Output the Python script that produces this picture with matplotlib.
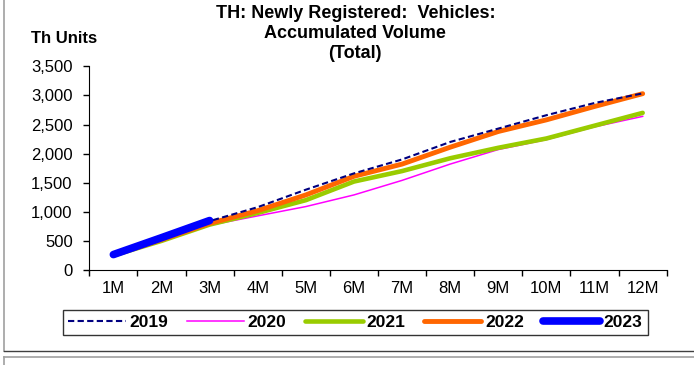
import matplotlib
matplotlib.use("Agg")
import matplotlib.pyplot as plt
import numpy as np
from matplotlib.lines import Line2D

plt.rcParams['font.family'] = ['Liberation Sans', 'DejaVu Sans']

# Data (thousand units, accumulated)
months = ["1M", "2M", "3M", "4M", "5M", "6M", "7M", "8M", "9M", "10M", "11M", "12M"]
v2019 = [260, 540, 840, 1080, 1380, 1660, 1900, 2200, 2430, 2660, 2870, 3035]
v2020 = [250, 490, 770, 930, 1090, 1290, 1540, 1820, 2070, 2240, 2460, 2640]
v2021 = [250, 500, 780, 980, 1200, 1520, 1700, 1920, 2100, 2260, 2480, 2700]
v2022 = [255, 520, 800, 1020, 1290, 1610, 1820, 2110, 2380, 2580, 2810, 3030]
v2023 = [265, 555, 850]

fig = plt.figure(figsize=(6.94, 3.65), dpi=100)
ax = fig.add_axes([0.1287, 0.2603, 0.832, 0.558])

x = np.arange(len(months)) + 0.5

ax.plot(x, v2020, color="#FF00FF", lw=1.1, label="2020", zorder=2)
ax.plot(x, v2021, color="#99CC00", lw=3.3, label="2021", zorder=3, solid_capstyle="round")
ax.plot(x, v2022, color="#FF6600", lw=3.5, label="2022", zorder=4, solid_capstyle="round")
ax.plot(x, v2019, color="#000080", lw=1.5, ls=(0, (3, 1.6)), label="2019", zorder=5)
ax.plot(x[:len(v2023)], v2023, color="#0000FF", lw=5.5, label="2023", zorder=6,
        solid_capstyle="round")

ax.set_xlim(0, 12)
ax.set_ylim(0, 3500)
ax.set_yticks(np.arange(0, 3501, 500))
ax.set_yticklabels([f"{v:,}" for v in range(0, 3501, 500)], fontsize=12)
ax.set_xticks(np.arange(0, 13))
ax.set_xticklabels([])
ax.set_xticks(x, minor=True)
ax.set_xticklabels(months, minor=True, fontsize=12)
ax.tick_params(axis="x", which="major", direction="out", length=4, width=1)
ax.tick_params(axis="x", which="minor", length=0, pad=8)
ax.tick_params(axis="y", direction="out", length=4, width=1, pad=8)
ax.spines["top"].set_visible(False)
ax.spines["right"].set_visible(False)

fig.text(0.512, 0.964, "TH: Newly Registered:  Vehicles:", ha="center", va="center",
         fontsize=13, fontweight="bold")
fig.text(0.512, 0.909, "Accumulated Volume", ha="center", va="center",
         fontsize=13, fontweight="bold")
fig.text(0.512, 0.854, "(Total)", ha="center", va="center",
         fontsize=13, fontweight="bold")
fig.text(0.045, 0.895, "Th Units", ha="left", va="center", fontsize=12, fontweight="bold")

handles = [Line2D([], [], color="#000080", lw=1.5, ls=(0, (3, 1.6))),
           Line2D([], [], color="#FF00FF", lw=1.1),
           Line2D([], [], color="#99CC00", lw=3.3, solid_capstyle="round"),
           Line2D([], [], color="#FF6600", lw=3.5, solid_capstyle="round"),
           Line2D([], [], color="#0000FF", lw=5.5, solid_capstyle="round")]
leg = fig.legend(handles, ["2019", "2020", "2021", "2022", "2023"], ncol=5,
                 loc="center", bbox_to_anchor=(0.512, 0.1164), frameon=True,
                 fancybox=False, edgecolor="black", handlelength=3.3,
                 handletextpad=0.2, columnspacing=1.1, borderpad=0.3,
                 prop={"weight": "bold", "size": 12.5})
leg.get_frame().set_linewidth(1.0)

# outer chart frame
fig.add_artist(Line2D([0.006, 0.006], [1.0, 1 - 351 / 365], transform=fig.transFigure,
                      color="#a0a0a0", lw=1.2))
fig.add_artist(Line2D([0.006, 1.0], [1 - 351 / 365, 1 - 351 / 365], transform=fig.transFigure,
                      color="#404040", lw=1.0))
fig.add_artist(Line2D([0.006, 1.0], [1 - 357 / 365, 1 - 357 / 365], transform=fig.transFigure,
                      color="#a0a0a0", lw=1.2))
fig.add_artist(Line2D([0.006, 0.006], [1 - 357 / 365, 0.0], transform=fig.transFigure,
                      color="#a0a0a0", lw=1.2))

fig.savefig("out.png", dpi=100)
